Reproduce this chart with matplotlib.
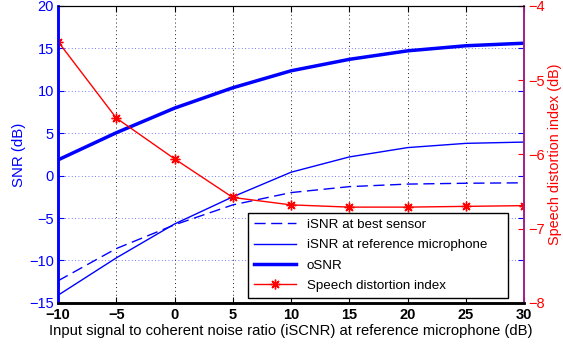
import matplotlib
matplotlib.use("Agg")
import matplotlib.pyplot as plt
import numpy as np

# data
iscnr = [-10, -5, 0, 5, 10, 15, 20, 25, 30]
isnr_best = [-12.4, -8.6, -5.8, -3.45, -2.0, -1.3, -1.0, -0.9, -0.85]
isnr_ref = [-14.1, -9.7, -5.7, -2.5, 0.4, 2.2, 3.3, 3.8, 3.95]
osnr = [1.85, 5.05, 7.95, 10.35, 12.35, 13.7, 14.7, 15.3, 15.6]
sdi = [-4.48, -5.51, -6.06, -6.58, -6.68, -6.71, -6.71, -6.70, -6.69]

xticks = [-10, -5, 0, 5, 10, 15, 20, 25, 30]
yticks_left = [-15, -10, -5, 0, 5, 10, 15, 20]
yticks_right = [-8, -7, -6, -5, -4]

plt.rcParams["font.family"] = ["Liberation Sans", "DejaVu Sans"]

fig = plt.figure(figsize=(5.63, 3.45), dpi=100)
ax = fig.add_axes([0.103, 0.122, 0.828, 0.861])
ax2 = ax.twinx()

# left axis: SNR curves
l1, = ax.plot(iscnr, isnr_best, color="blue", lw=1.0, dashes=(8, 4), label="iSNR at best sensor")
l2, = ax.plot(iscnr, isnr_ref, color="blue", lw=1.0, label="iSNR at reference microphone    ")
l3, = ax.plot(iscnr, osnr, color="blue", lw=2.5, label="oSNR")

# right axis: speech distortion index
l4, = ax2.plot(iscnr, sdi, color="red", lw=1.0, marker=(8, 2, 0), ms=7, mew=1.0,
               label="Speech distortion index")

ax.set_xlim(-10, 30)
ax.set_ylim(-15, 20)
ax2.set_ylim(-8, -4)
ax.set_xticks(xticks)
ax.set_yticks(yticks_left)
ax2.set_yticks(yticks_right)
ax.set_xticklabels([str(v).replace("-", "\u2212") for v in xticks], fontsize=10.5, fontweight="bold")
ax.set_yticklabels([str(v).replace("-", "\u2212") for v in yticks_left], fontsize=10.5)
ax2.set_yticklabels([str(v).replace("-", "\u2212") for v in yticks_right], fontsize=10.5)

# grid: vertical black dotted, horizontal blue dotted
for v in xticks[1:-1]:
    ax.axvline(v, color="#222222", lw=0.7, ls=(0, (1, 3)), zorder=0)
for v in yticks_left[1:-1]:
    ax.axhline(v, color="blue", lw=0.6, ls=(0, (1, 3)), alpha=0.7, zorder=0)

ax.tick_params(axis="x", direction="in", length=4, colors="black", pad=4, top=True)
ax.tick_params(axis="y", direction="in", length=4, colors="blue", labelcolor="blue", pad=3, right=True)
ax2.tick_params(axis="y", direction="in", length=4, colors="red", labelcolor="red", pad=3)

ax.set_ylabel("SNR (dB)", color="blue", fontsize=10.8, labelpad=2)
ax2.set_ylabel("Speech distortion index (dB)", color="red", fontsize=10.4, labelpad=2)
ax.set_xlabel("Input signal to coherent noise ratio (iSCNR) at reference microphone (dB)",
              fontsize=10.6, labelpad=1)

for a in (ax, ax2):
    a.spines["top"].set_color("black")
    a.spines["bottom"].set_color("black")
    a.spines["bottom"].set_linewidth(1.8)
    a.spines["left"].set_color("blue")
    a.spines["left"].set_linewidth(1.8)
    a.spines["right"].set_color("#a0208a")
    a.spines["right"].set_linewidth(1.2)

leg = ax2.legend(handles=[l1, l2, l3, l4], loc="lower right", fontsize=9.6,
                 frameon=True, fancybox=False, edgecolor="black", framealpha=1,
                 borderpad=0.45, handlelength=3.2, labelspacing=0.6,
                 borderaxespad=0, bbox_to_anchor=(0.966, 0.017))
leg.get_frame().set_linewidth(1.0)

fig.savefig("out.png", dpi=100)
